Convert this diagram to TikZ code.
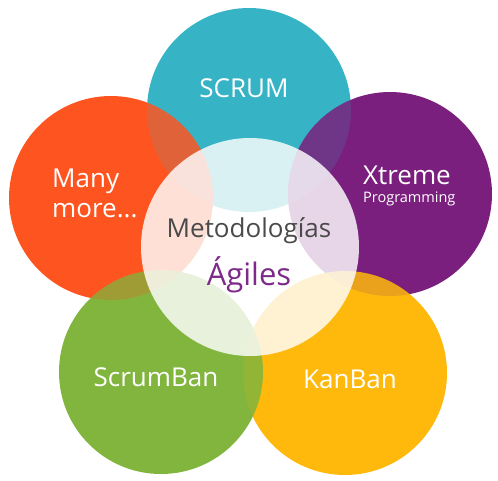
\documentclass[tikz,border=0pt]{standalone}
\usepackage{fontspec}
\setmainfont{Open Sans}
\usepackage{xcolor}
\definecolor{scrumcol}{HTML}{36B4C6}
\definecolor{manycol}{HTML}{FE5420}
\definecolor{xpcol}{HTML}{7A1F7D}
\definecolor{kancol}{HTML}{FEB90C}
\definecolor{sbcol}{HTML}{81B53D}
\definecolor{metcol}{HTML}{4A4A4A}
\definecolor{agilcol}{HTML}{7D2A8A}
\tikzset{
  blob/.style={circle, inner sep=0pt, minimum size=204pt},
  lbl/.style={anchor=base, text=white, inner sep=0pt, font=\fontsize{26}{30}\selectfont}
}
\begin{document}
\begin{tikzpicture}[x=1pt, y=-1pt]
  \useasboundingbox (0,0) rectangle (498,480);
  \node[blob, fill=scrumcol] (scrum) at (249,110) {};
  \node[blob, fill=manycol] (many) at (111,198) {};
  \node[blob, fill=xpcol] (xp) at (390,194) {};
  \node[blob, fill=kancol] (kanban) at (345,373) {};
  \node[blob, fill=sbcol] (scrumban) at (161,372) {};
  \begin{scope}
    \clip (many) circle (102pt);
    \fill[scrumcol, opacity=0.15] (scrum) circle (102pt);
  \end{scope}
  \begin{scope}
    \clip (xp) circle (102pt);
    \fill[scrumcol, opacity=0.15] (scrum) circle (102pt);
  \end{scope}
  \begin{scope}
    \clip (kanban) circle (102pt);
    \fill[xpcol, opacity=0.15] (xp) circle (102pt);
  \end{scope}
  \begin{scope}
    \clip (scrumban) circle (102pt);
    \fill[manycol, opacity=0.25] (many) circle (102pt);
    \fill[kancol, opacity=0.15] (kanban) circle (102pt);
  \end{scope}
  \node[blob, fill=white, fill opacity=0.82, minimum size=218pt] (core) at (250,247) {};
  \node[lbl] (scrum-t) at (244,97) {SCRUM};
  \node[lbl, anchor=base west] (many-t) at (52,187) {Many};
  \node[lbl, anchor=base west] (many-t2) at (52,217) {more...};
  \node[lbl, anchor=base west] (xp-t) at (363,184) {Xtreme};
  \node[lbl, anchor=base west, font=\fontsize{14.5}{16}\selectfont] (xp-t2) at (363,202) {Programming};
  \node[lbl] (scrumban-t) at (156,386) {ScrumBan};
  \node[lbl] (kanban-t) at (350,388) {KanBan};
  \node[lbl, text=metcol] (core-t) at (249,237) {Metodologías};
  \node[lbl, text=agilcol, font=\fontsize{31}{34}\selectfont] (core-t2) at (249,285) {Ágiles};
\end{tikzpicture}
\end{document}
